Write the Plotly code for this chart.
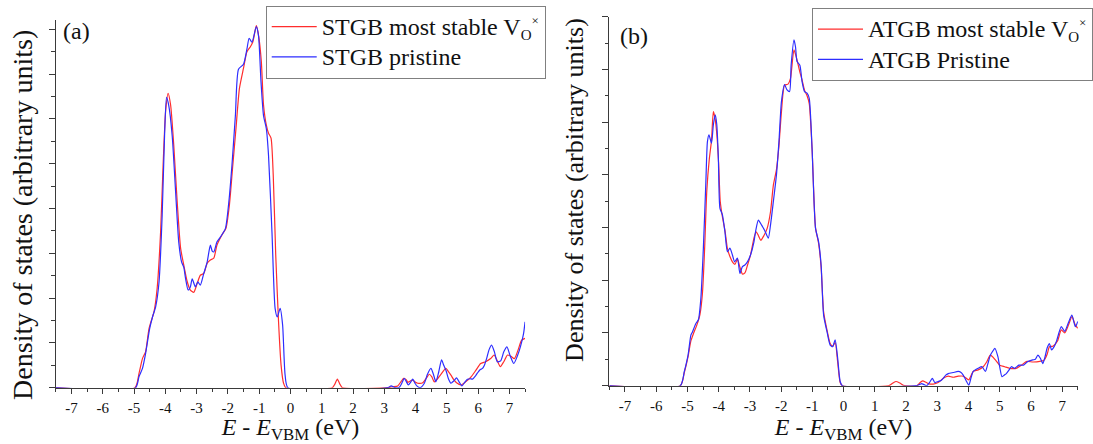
import plotly.graph_objects as go

# ---------------- Panel (a): STGB ----------------
a_red_E = [-7.5, -4.97, -4.84, -4.73, -4.63, -4.52, -4.36, -4.26, -4.15, -4.07, -3.99, -3.91, -3.83, -3.73,
           -3.62, -3.51, -3.41, -3.30, -3.20, -3.09, -2.98, -2.88, -2.77, -2.66, -2.56, -2.45, -2.35, -2.19,
           -2.06, -1.95, -1.85, -1.74, -1.63, -1.50, -1.39, -1.28, -1.20, -1.09, -1.02, -0.93, -0.86, -0.77,
           -0.70, -0.62, -0.55, -0.47, -0.38, -0.30, -0.22, -0.15,
           1.34, 1.42, 1.50, 1.58, 1.66,
           3.11, 3.27, 3.43, 3.55, 3.62, 3.70, 3.75, 3.83, 3.91, 4.00, 4.07, 4.23, 4.35, 4.44, 4.52, 4.60,
           4.70, 4.81, 4.97, 5.05, 5.13, 5.22, 5.31, 5.45, 5.60, 5.76, 5.92, 6.08, 6.24, 6.40, 6.51, 6.60,
           6.71, 6.82, 6.94, 7.05, 7.16, 7.28, 7.39, 7.50]
a_red_D = [0, 0, 0.32, 0.65, 0.80, 1.32, 1.70, 2.22, 3.48, 4.97, 6.16, 6.57, 6.31, 5.42,
           4.15, 3.11, 2.74, 2.37, 2.18, 2.13, 2.33, 2.51, 2.55, 2.78, 2.85, 2.89, 3.18, 3.41,
           3.56, 4.08, 4.90, 5.79, 6.68, 7.13, 7.50, 7.61, 7.72, 8.08, 7.87, 7.28, 6.31, 5.86,
           5.68, 5.57, 4.75, 2.96, 1.47, 0.51, 0.10, 0,
           0, 0.08, 0.19, 0.08, 0,
           0, 0.02, 0.04, 0.15, 0.21, 0.18, 0.12, 0.15, 0.17, 0.12, 0.10, 0.11, 0.22, 0.30, 0.24, 0.13,
           0.20, 0.30, 0.43, 0.36, 0.28, 0.18, 0.11, 0.06, 0.13, 0.23, 0.38, 0.54, 0.58, 0.65, 0.73, 0.62,
           0.47, 0.58, 0.73, 0.70, 0.65, 0.85, 1.06, 1.10]

a_blue_E = [-7.5, -4.95, -4.84, -4.73, -4.63, -4.50, -4.40, -4.31, -4.20, -4.10, -4.02, -3.96, -3.89, -3.78,
            -3.67, -3.57, -3.48, -3.41, -3.35, -3.27, -3.20, -3.14, -3.04, -2.96, -2.88, -2.77, -2.66, -2.56,
            -2.50, -2.45, -2.35, -2.24, -2.08, -1.97, -1.87, -1.76, -1.66, -1.50, -1.39, -1.32, -1.23, -1.09,
            -1.02, -0.94, -0.86, -0.77, -0.70, -0.59, -0.49, -0.42, -0.33, -0.25, -0.17, -0.08,
            3.10, 3.22, 3.34, 3.48, 3.56, 3.64, 3.70, 3.77, 3.84, 3.91, 3.98, 4.04, 4.15, 4.28, 4.38, 4.49,
            4.57, 4.65, 4.74, 4.83, 4.90, 4.97, 5.05, 5.13, 5.22, 5.31, 5.40, 5.48, 5.57, 5.66, 5.74, 5.82,
            5.90, 5.98, 6.06, 6.14, 6.20, 6.27, 6.35, 6.43, 6.52, 6.61, 6.72, 6.82, 6.92, 7.03, 7.14, 7.25,
            7.35, 7.45, 7.50]
a_blue_D = [0, 0, 0.25, 0.43, 0.76, 1.32, 1.60, 1.80, 2.36, 3.85, 5.70, 6.48, 6.30, 5.63,
            4.37, 3.25, 2.81, 2.69, 2.43, 2.18, 2.25, 2.43, 2.25, 2.36, 2.29, 2.55, 2.81, 3.18,
            3.05, 3.03, 3.25, 3.36, 3.55, 4.14, 4.96, 6.07, 7.11, 7.22, 7.56, 7.80, 7.71, 8.06,
            7.85, 6.82, 6.07, 5.78, 5.18, 3.47, 1.77, 1.58, 1.77, 1.40, 0.28, 0,
            0, 0.04, 0, 0.01, 0.10, 0.21, 0.14, 0.06, 0.12, 0.19, 0.10, 0.04, 0, 0.10, 0.30, 0.43,
            0.30, 0.13, 0.35, 0.62, 0.50, 0.39, 0.20, 0.10, 0.15, 0.22, 0.12, 0.04, 0.12, 0.19, 0.20, 0.19,
            0.25, 0.33, 0.40, 0.43, 0.50, 0.65, 0.85, 0.95, 0.80, 0.58, 0.60, 0.80, 0.91, 0.70, 0.54, 0.70,
            0.91, 1.20, 1.47]

# ---------------- Panel (b): ATGB ----------------
b_red_E = [-7.5, -5.23, -5.10, -4.98, -4.89, -4.80, -4.70, -4.60, -4.52, -4.45, -4.38, -4.30, -4.23, -4.17,
           -4.11, -4.05, -4.00, -3.95, -3.88, -3.80, -3.72, -3.64, -3.56, -3.48, -3.40, -3.32, -3.24, -3.16,
           -3.08, -2.98, -2.87, -2.80, -2.73, -2.65, -2.55, -2.45, -2.34, -2.25, -2.15, -2.07, -1.99, -1.89,
           -1.78, -1.70, -1.59, -1.50, -1.40, -1.33, -1.25, -1.17, -1.10, -1.01, -0.90, -0.80, -0.72, -0.64,
           -0.53, -0.43, -0.35, -0.27, -0.19, -0.11, -0.04,
           1.45, 1.58, 1.68, 1.80, 1.95,
           2.35, 2.45, 2.53, 2.62, 2.71, 2.87, 3.03, 3.19, 3.35, 3.51, 3.67, 3.83, 3.93, 4.01, 4.15, 4.31,
           4.47, 4.58, 4.70, 4.86, 5.00, 5.16, 5.32, 5.53, 5.69, 5.87, 6.06, 6.28, 6.43, 6.52, 6.59, 6.70,
           6.85, 6.97, 7.08, 7.20, 7.31, 7.42, 7.50]
b_red_D = [0, 0, 0.25, 0.55, 0.85, 1.00, 1.15, 1.35, 1.75, 2.60, 3.70, 4.30, 4.65, 5.20,
           5.05, 4.70, 4.20, 3.50, 3.20, 2.95, 2.60, 2.45, 2.35, 2.30, 2.40, 2.25, 2.12, 2.14,
           2.28, 2.48, 2.80, 2.92, 2.85, 2.76, 2.85, 2.98, 3.30, 3.80, 4.10, 4.55, 5.20, 5.70,
           5.72, 5.83, 6.37, 6.20, 5.95, 5.80, 5.60, 5.50, 5.35, 4.50, 3.00, 2.70, 2.25, 1.40,
           1.05, 0.80, 0.75, 0.82, 0.45, 0.06, 0,
           0, 0.05, 0.08, 0.05, 0,
           0, 0.06, 0.09, 0.07, 0.04, 0.03, 0.06, 0.14, 0.18, 0.16, 0.18, 0.18, 0.14, 0.11, 0.27, 0.30,
           0.36, 0.45, 0.58, 0.49, 0.39, 0.36, 0.33, 0.33, 0.39, 0.46, 0.45, 0.46, 0.49, 0.60, 0.74, 0.75,
           0.85, 1.06, 1.00, 1.15, 1.31, 1.15, 1.09]

b_blue_E = [-7.5, -5.23, -5.10, -4.98, -4.89, -4.84, -4.73, -4.65, -4.57, -4.49, -4.41, -4.36, -4.31, -4.23,
            -4.17, -4.11, -4.06, -4.01, -3.96, -3.88, -3.80, -3.72, -3.64, -3.56, -3.49, -3.40, -3.32, -3.24,
            -3.16, -3.08, -2.98, -2.87, -2.82, -2.73, -2.63, -2.53, -2.41, -2.34, -2.25, -2.15, -2.07, -1.99,
            -1.89, -1.81, -1.73, -1.68, -1.59, -1.54, -1.49, -1.40, -1.33, -1.25, -1.17, -1.10, -1.01, -0.90,
            -0.80, -0.72, -0.64, -0.53, -0.43, -0.35, -0.27, -0.19, -0.11, -0.04,
            2.30, 2.42, 2.50, 2.58, 2.66, 2.75, 2.84, 2.92, 3.03, 3.12, 3.19, 3.27, 3.35, 3.51, 3.67, 3.76,
            3.83, 3.92, 4.01, 4.08, 4.15, 4.31, 4.43, 4.54, 4.62, 4.70, 4.77, 4.84, 4.94, 5.00, 5.07, 5.14,
            5.21, 5.30, 5.37, 5.48, 5.61, 5.76, 5.90, 6.06, 6.14, 6.22, 6.30, 6.38, 6.45, 6.52, 6.59, 6.66,
            6.75, 6.82, 6.97, 7.08, 7.20, 7.31, 7.42, 7.50]
b_blue_D = [0, 0, 0.27, 0.58, 0.96, 1.02, 1.18, 1.25, 1.66, 2.61, 3.87, 4.63, 4.76, 4.60,
            4.95, 5.14, 4.95, 4.31, 3.37, 3.24, 2.92, 2.54, 2.61, 2.48, 2.35, 2.42, 2.13, 2.26,
            2.29, 2.35, 2.48, 2.73, 2.92, 3.14, 3.05, 2.95, 2.80, 3.05, 3.49, 4.00, 4.63, 5.39,
            5.71, 5.61, 5.58, 6.08, 6.56, 6.43, 6.15, 6.08, 5.77, 5.58, 5.55, 5.45, 4.50, 2.99,
            2.73, 2.29, 1.34, 1.02, 0.77, 0.74, 0.87, 0.52, 0.08, 0,
            0, 0.02, 0.04, 0.02, 0.00, 0.06, 0.14, 0.06, 0.08, 0.10, 0.14, 0.20, 0.23, 0.25, 0.27, 0.25,
            0.20, 0.10, 0.01, 0.15, 0.27, 0.33, 0.36, 0.27, 0.42, 0.58, 0.65, 0.71, 0.55, 0.35, 0.17, 0.20,
            0.23, 0.30, 0.36, 0.33, 0.39, 0.39, 0.46, 0.49, 0.50, 0.58, 0.52, 0.42, 0.55, 0.72, 0.80, 0.68,
            0.75, 0.85, 1.12, 1.03, 1.20, 1.34, 1.12, 1.22]

x_ticks = list(range(-7, 8))
x_tick_labels = [str(v) for v in x_ticks]

LEG_SPAN = "<span style='font-size:24px'>{}</span>"
VO = "V<sub><span style='font-size:15px'>O</span></sub><sup><span style='font-size:13px'>×</span></sup>"
names_a = [LEG_SPAN.format("STGB most stable " + VO), LEG_SPAN.format("STGB pristine")]
names_b = [LEG_SPAN.format("ATGB most stable " + VO), LEG_SPAN.format("ATGB Pristine")]
y_title = "Density of states (arbitrary units)"
x_title = "<i>E</i> - <i>E</i><sub>VBM</sub> (eV)"

RED = "rgb(255,45,45)"
BLUE = "rgb(45,45,255)"
FONT = "Liberation Serif, Times New Roman, serif"
AX = "#3a3a3a"

fig = go.Figure()
line_kw = dict(width=1.2, shape="spline", smoothing=0.6)
fig.add_trace(go.Scatter(x=a_red_E, y=a_red_D, mode="lines", name=names_a[0],
                         line=dict(color=RED, **line_kw), xaxis="x", yaxis="y", legend="legend"))
fig.add_trace(go.Scatter(x=a_blue_E, y=a_blue_D, mode="lines", name=names_a[1],
                         line=dict(color=BLUE, **line_kw), xaxis="x", yaxis="y", legend="legend"))
fig.add_trace(go.Scatter(x=b_red_E, y=b_red_D, mode="lines", name=names_b[0],
                         line=dict(color=RED, **line_kw), xaxis="x2", yaxis="y2", legend="legend2"))
fig.add_trace(go.Scatter(x=b_blue_E, y=b_blue_D, mode="lines", name=names_b[1],
                         line=dict(color=BLUE, **line_kw), xaxis="x2", yaxis="y2", legend="legend2"))

W, H = 1093, 444


def xax(domain, anchor):
    return dict(domain=domain, anchor=anchor, range=[-7.5, 7.5], tickmode="array",
                tickvals=x_ticks, ticktext=x_tick_labels, ticks="outside", ticklen=5, tickwidth=1.3,
                tickcolor=AX, showline=True, linecolor=AX, linewidth=1.4, showgrid=False, zeroline=False,
                minor=dict(dtick=0.5, tick0=0, ticks="outside", ticklen=3, tickwidth=1.1, tickcolor=AX,
                           showgrid=False),
                tickfont=dict(family=FONT, size=15, color="#111"), ticklabelstandoff=1,
                title=dict(text=x_title, font=dict(family=FONT, size=24, color="#111"), standoff=4),
                layer="below traces", fixedrange=True)


def yax(domain, anchor, top):
    return dict(domain=domain, anchor=anchor, range=[0, top], dtick=1, tick0=0, ticks="outside",
                ticklen=6, tickwidth=1.3, tickcolor=AX, showticklabels=False, showline=True,
                linecolor=AX, linewidth=1.4, showgrid=False, zeroline=False,
                minor=dict(dtick=0.5, tick0=0, ticks="outside", ticklen=3.5, tickwidth=1.1,
                           tickcolor=AX, showgrid=False),
                layer="below traces", fixedrange=True)


leg_common = dict(xanchor="left", yanchor="top", bgcolor="white", bordercolor="#808080", borderwidth=1,
                  font=dict(family=FONT, size=21, color="#111"), itemwidth=45, tracegroupgap=0)

fig.update_layout(
    width=W, height=H, margin=dict(l=0, r=0, t=0, b=0),
    paper_bgcolor="white", plot_bgcolor="white",
    xaxis=xax([56 / W, 527 / W], "y"),
    yaxis=yax([1 - 387.7 / H, 1 - 20.3 / H], "x", 8.2),
    xaxis2=xax([611.6 / W, 1081.8 / W], "y2"),
    yaxis2=yax([1 - 385.7 / H, 1 - 16.7 / H], "x2", 7.0),
    legend=dict(x=266.7 / W, y=1 - 5.5 / H, **leg_common),
    legend2=dict(x=815 / W, y=1 - 8 / H, **leg_common),
    annotations=[
        dict(text="(a)", x=77 / W, y=1 - 31 / H, xref="paper", yref="paper", showarrow=False,
             font=dict(family=FONT, size=24, color="#111"), xanchor="center", yanchor="middle"),
        dict(text="(b)", x=636 / W, y=1 - 36 / H, xref="paper", yref="paper", showarrow=False,
             font=dict(family=FONT, size=24, color="#111"), xanchor="center", yanchor="middle"),
        dict(text=y_title, x=22 / W, y=1 - 215 / H, xref="paper", yref="paper", showarrow=False,
             textangle=-90, font=dict(family=FONT, size=28, color="#111"),
             xanchor="center", yanchor="middle"),
        dict(text=y_title, x=576 / W, y=1 - 190 / H, xref="paper", yref="paper", showarrow=False,
             textangle=-90, font=dict(family=FONT, size=26, color="#111"),
             xanchor="center", yanchor="middle"),
    ],
    showlegend=True,
)

fig.write_html("out.html", config={"displayModeBar": False},
               post_script="document.body.style.margin='0';document.body.style.padding='0';"
                           "document.documentElement.style.overflow='hidden';")
